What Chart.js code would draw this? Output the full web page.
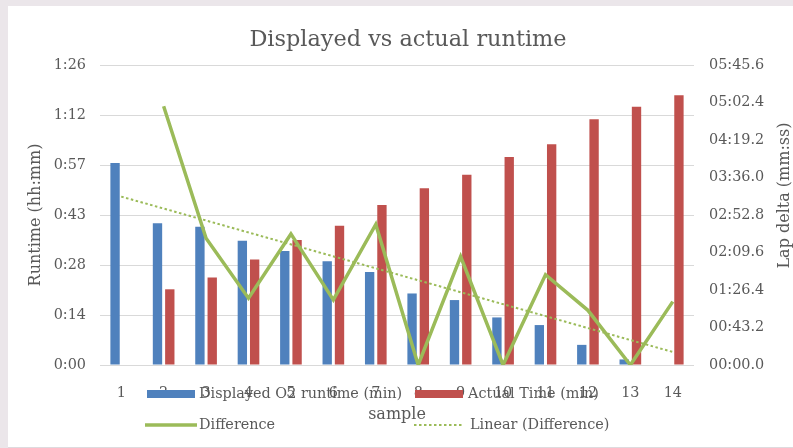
<!DOCTYPE html>
<html>
<head>
<meta charset="utf-8">
<title>Displayed vs actual runtime</title>
<script src="https://cdn.jsdelivr.net/npm/chart.js@4.4.1/dist/chart.umd.min.js"></script>
<style>
  html, body { margin: 0; padding: 0; background: #ebe6ea; overflow: hidden; }
  #box { position: absolute; left: 8px; top: 6px; width: 785px; height: 441px; background: #ffffff; border-bottom: 1px solid #dedade; }
  canvas { display: block; }
</style>
</head>
<body>
<div id="box"><canvas id="chart" width="785" height="441"></canvas></div>
<script>
// sample numbers on the x axis
const samples = ['1', '2', '3', '4', '5', '6', '7', '8', '9', '10', '11', '12', '13', '14'];

// runtimes in minutes (left axis)
const displayedO2 = [58.2, 40.8, 39.8, 35.8, 32.8, 29.9, 26.8, 20.6, 18.7, 13.7, 11.5, 5.8, 1.6, null];
const actualTime = [null, 21.8, 25.2, 30.4, 36.0, 40.1, 46.1, 50.9, 54.8, 59.9, 63.6, 70.8, 74.4, 77.7];

// lap delta in seconds (right axis)
const difference = [null, 298, 146, 77, 151, 75, 162, 0, 125, 0, 104, 63, 0, 73];
// linear trendline of the difference, only its two ends
const linearDiff = [194, null, null, null, null, null, null, null, null, null, null, null, null, 15];

// tick labels as excel shows them
const leftTickLabels = ['0:00', '0:14', '0:28', '0:43', '0:57', '1:12', '1:26'];
const rightTickLabels = ['00:00.0', '00:43.2', '01:26.4', '02:09.6', '02:52.8', '03:36.0', '04:19.2', '05:02.4', '05:45.6'];

const BLUE = '#4f81bd';
const RED = '#c0504d';
const GREEN = '#9bbb59';
const TEXT = '#595959';

Chart.defaults.font.family = "'DejaVu Serif', serif";
Chart.defaults.color = TEXT;

// title, legend and right axis title drawn by hand (excel layout overlaps the axis)
const excelExtras = {
    id: 'excelExtras',
    afterDraw(chart) {
        const ctx = chart.ctx;
        ctx.save();
        ctx.textBaseline = 'middle';

        ctx.font = "22.4px 'DejaVu Serif'";
        ctx.fillStyle = TEXT;
        ctx.textAlign = 'center';
        ctx.fillText('Displayed vs actual runtime', 400, 34);

        ctx.font = "14.4px 'DejaVu Serif'";
        ctx.textAlign = 'left';

        ctx.fillStyle = BLUE;
        ctx.fillRect(139, 384, 48, 8);
        ctx.fillStyle = RED;
        ctx.fillRect(407, 384, 48, 8);

        ctx.strokeStyle = GREEN;
        ctx.lineWidth = 3.5;
        ctx.beginPath();
        ctx.moveTo(137, 419);
        ctx.lineTo(189, 419);
        ctx.stroke();

        ctx.lineWidth = 2;
        ctx.setLineDash([2.5, 2.5]);
        ctx.beginPath();
        ctx.moveTo(406, 419);
        ctx.lineTo(454, 419);
        ctx.stroke();
        ctx.setLineDash([]);

        ctx.fillStyle = TEXT;
        ctx.fillText('Displayed O2 runtime (min)', 191, 388.5);
        ctx.fillText('Actual Time (min)', 460, 388.5);
        ctx.fillText('Difference', 191, 419);
        ctx.fillText('Linear (Difference)', 462, 419);

        ctx.font = "16px 'DejaVu Serif'";
        ctx.textAlign = 'center';
        ctx.translate(776.5, 189.5);
        ctx.rotate(-Math.PI / 2);
        ctx.fillText('Lap delta (mm:ss)', 0, 0);
        ctx.restore();
    }
};

const runtimeChart = new Chart(document.getElementById('chart').getContext('2d'), {
    type: 'bar',
    data: {
        labels: samples,
        datasets: [
            {
                label: 'Displayed O2 runtime (min)',
                data: displayedO2,
                backgroundColor: BLUE,
                yAxisID: 'y',
                order: 2,
                categoryPercentage: 0.58,
                barPercentage: 0.76
            },
            {
                label: 'Actual Time (min)',
                data: actualTime,
                backgroundColor: RED,
                yAxisID: 'y',
                order: 2,
                categoryPercentage: 0.58,
                barPercentage: 0.76
            },
            {
                type: 'line',
                label: 'Difference',
                data: difference,
                borderColor: GREEN,
                backgroundColor: GREEN,
                borderWidth: 3.5,
                pointRadius: 0,
                tension: 0,
                spanGaps: false,
                yAxisID: 'y1',
                order: 1
            },
            {
                type: 'line',
                label: 'Linear (Difference)',
                data: linearDiff,
                borderColor: GREEN,
                borderWidth: 2,
                borderDash: [2.5, 2.5],
                pointRadius: 0,
                spanGaps: true,
                yAxisID: 'y1',
                order: 0
            }
        ]
    },
    options: {
        responsive: false,
        animation: false,
        layout: { padding: { top: 59 } },
        plugins: {
            legend: { display: false },
            tooltip: { enabled: false },
            title: { display: false }
        },
        scales: {
            x: {
                grid: { display: false },
                border: { display: false },
                ticks: { font: { size: 14.4 }, padding: 11.4, maxRotation: 0 },
                title: {
                    display: true,
                    text: 'sample',
                    font: { size: 16 },
                    padding: { top: 12, bottom: 22.1 }
                },
                afterFit(scale) { scale.height = 82; }
            },
            y: {
                position: 'left',
                min: 0,
                max: 86.4,
                border: { display: false },
                grid: { color: '#d9d9d9', lineWidth: 1, drawTicks: false },
                ticks: {
                    stepSize: 14.4,
                    padding: 14,
                    font: { size: 14.4 },
                    callback: (value, index) => leftTickLabels[index]
                },
                title: {
                    display: true,
                    text: 'Runtime (hh:mm)',
                    font: { size: 16 },
                    padding: { top: 18.4, bottom: 0 }
                },
                afterFit(scale) { scale.width = 92; }
            },
            y1: {
                position: 'right',
                min: 0,
                max: 345.6,
                border: { display: false },
                grid: { display: false, drawTicks: false },
                ticks: {
                    stepSize: 43.2,
                    padding: 15,
                    font: { size: 14.4 },
                    callback: (value, index) => rightTickLabels[index]
                },
                afterFit(scale) { scale.width = 99; }
            }
        }
    },
    plugins: [excelExtras]
});
</script>
</body>
</html>
